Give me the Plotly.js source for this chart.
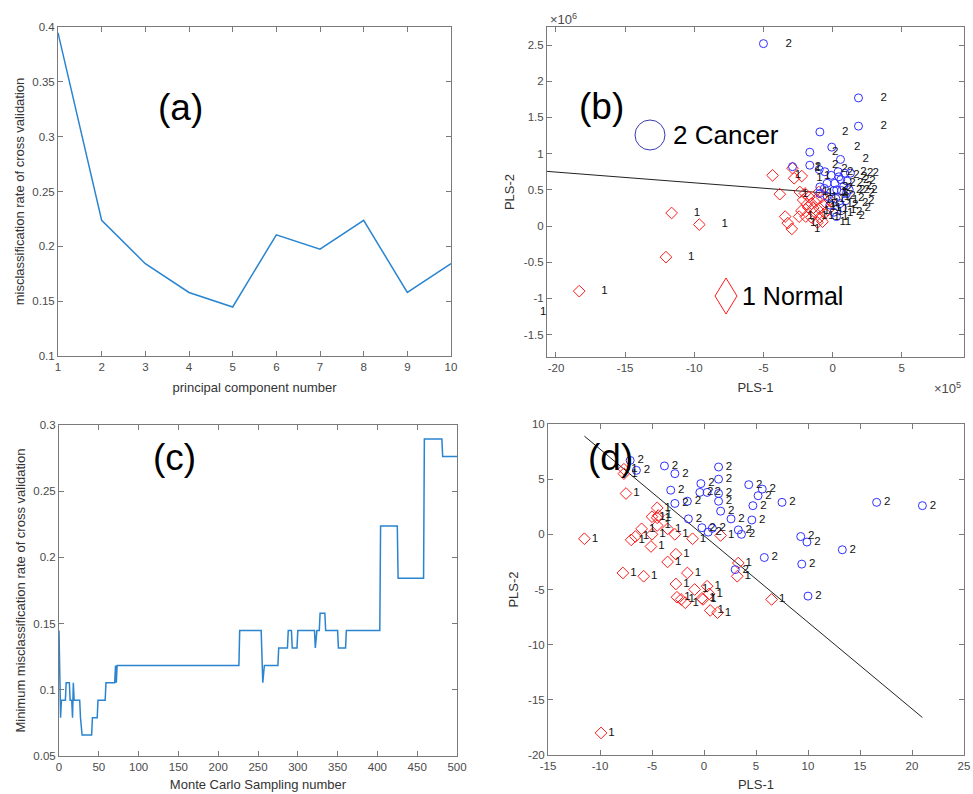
<!DOCTYPE html>
<html>
<head>
<meta charset="utf-8">
<script src="https://cdn.plot.ly/plotly-3.0.1.min.js"></script>
<style>html,body{margin:0;padding:0;background:#fff;}#chart{width:973px;height:794px;}</style>
</head>
<body>
<div id="chart"></div>
<script>
// ---------- DATA ----------
// (a) misclassification rate vs number of principal components
const pcNumber = [1, 2, 3, 4, 5, 6, 7, 8, 9, 10];
const pcRate = [0.3947, 0.2237, 0.1842, 0.1579, 0.1447, 0.2105, 0.1974, 0.2237, 0.1579, 0.1842];

// (c) minimum misclassification rate vs Monte Carlo sampling number
const mcX = [0, 1, 2, 3, 8, 9, 13, 14, 16, 17, 18, 19, 26, 27, 29, 41, 42, 48, 49, 58, 59, 70, 71, 72, 73,
  226, 227, 254, 256, 258, 275, 276, 287, 288, 292, 293, 299, 300, 321, 322, 324, 327, 328, 334, 335,
  350, 351, 360, 361, 403, 404, 425, 426, 458, 459, 481, 482, 500];
const mcY = [0.1447, 0.0921, 0.0789, 0.0921, 0.0921, 0.1053, 0.1053, 0.0921, 0.0921, 0.0789, 0.1053, 0.0921, 0.0921, 0.0789, 0.0658, 0.0658, 0.0789, 0.0789, 0.0921, 0.0921, 0.1053, 0.1053, 0.1184, 0.1053, 0.1184,
  0.1184, 0.1447, 0.1447, 0.1053, 0.1184, 0.1184, 0.1316, 0.1316, 0.1447, 0.1447, 0.1316, 0.1316, 0.1447, 0.1447, 0.1316, 0.1447, 0.1447, 0.1579, 0.1579, 0.1447,
  0.1447, 0.1316, 0.1316, 0.1447, 0.1447, 0.2237, 0.2237, 0.1842, 0.1842, 0.2895, 0.2895, 0.2763, 0.2763];

// (b) PLS scores, raw spectra (PLS-1 in 1e5, PLS-2 in 1e6)
const bCancerX = [-5.0, 1.87, 1.87, -0.92, -0.06, -1.65, -2.9, -1.65, -0.97, 0.57, -0.56, 0.40, 0.88, 1.29, 0.59, 1.05, 0.16, -0.40, -0.92, 0.09, 0.64, -0.40, 0.23, -0.2, 0.52, 0.09, 0.28, -0.92, 0.3, 1.0, 0.7, 0.8, 1.2, 0.45, -0.1, 0.95, -0.6];
const bCancerY = [2.52, 1.77, 1.38, 1.30, 1.09, 1.02, 0.82, 0.84, 0.78, 0.92, 0.75, 0.75, 0.73, 0.73, 0.64, 0.62, 0.59, 0.59, 0.45, 0.49, 0.49, 0.41, 0.38, 0.29, 0.31, 0.19, 0.13, 0.54, 0.5, 0.45, 0.25, 0.55, 0.5, 0.68, 0.7, 0.35, 0.52];
const bNormalX = [-18.32, -12.05, -11.64, -9.64, -4.34, -3.82, -2.78, -2.23, -3.43, -3.24, -2.95, -2.37, -2.9,
  -2.13, -1.77, -2.25, -1.53, -1.29, -1.94, -1.53, -2.42, -1.16, -0.92, -0.56, -0.92, -0.73, -0.2, -1.0, -1.7, -0.6, -2.0, -1.4, -0.35, -1.1, -0.8, -1.85, -22.9];
const bNormalY = [-0.90, -0.43, 0.18, 0.02, 0.70, 0.44, 0.66, 0.69, 0.13, 0.04, -0.04, 0.47, 0.80,
  0.36, 0.26, 0.21, 0.31, 0.19, 0.13, 0.12, 0.13, 0.37, 0.24, 0.18, 0.12, 0.06, 0.36, 0.47, 0.40, 0.30, 0.45, 0.25, 0.22, 0.05, 0.40, 0.30, -1.17];
const bLineX = [-21, 1.2];
const bLineY = [0.76, 0.43];

// (d) PLS scores, processed
const dCancerX = [-7.1, -6.5, -3.8, -2.8, -3.2, -2.8, -1.6, -1.5, -0.3, -0.4, 0.3, -0.2, 0.4, 0.8, 1.4, 1.4, 1.4, 1.4, 1.6, 2.6, 4.3, 5.6, 5.2, 4.7, 4.6, 3.3, 3.6, 7.5, 5.8, 3.0, 9.3, 9.9, 9.4, 10.0, 13.3, 16.6, 21.0];
const dCancerY = [6.7, 5.8, 6.2, 5.5, 4.0, 2.8, 3.0, 1.4, 4.6, 3.8, 3.8, 0.6, 0.2, 0.55, 6.1, 5.0, 3.7, 3.0, 2.1, 1.4, 4.5, 4.1, 3.5, 2.6, 1.3, 0.4, 0.0, 2.9, -2.1, -3.2, -0.2, -0.7, -2.7, -5.6, -1.4, 2.9, 2.6];
const dNormalX = [-11.5, -9.9, -7.7, -7.7, -7.5, -7.8, -5.8, -7.0, -6.6, -6.0, -5.0, -4.5, -4.5, -4.5, -5.0, -5.1, -3.5, -2.8, -2.7, -3.5, -1.1, 1.6, -1.6, -2.7, -0.9, 0.3, -2.6, -2.2, -1.8, -0.2, -0.1, 0.6, 1.3, 3.3, 3.2, 6.5, 0.5, -4.4];
const dNormalY = [-0.4, -18.0, 5.9, 5.5, 3.7, -3.5, -3.8, -0.5, -0.2, 0.5, 1.6, 2.4, 1.5, 0.8, 0.0, -1.1, 0.5, 0.0, -1.8, -2.5, -0.4, -0.1, -3.5, -4.5, -5.0, -4.7, -5.7, -5.9, -6.2, -5.8, -5.9, -6.9, -7.1, -2.6, -3.8, -5.9, -5.4, 1.7];
const dLineX = [-11.5, 21.0];
const dLineY = [8.9, -16.6];

// tick values
const aXTicks = [1, 2, 3, 4, 5, 6, 7, 8, 9, 10];
const aYTicks = [0.1, 0.15, 0.2, 0.25, 0.3, 0.35, 0.4];
const bXTicks = [-20, -15, -10, -5, 0, 5];
const bYTicks = [-1.5, -1, -0.5, 0, 0.5, 1, 1.5, 2, 2.5];
const cXTicks = [0, 50, 100, 150, 200, 250, 300, 350, 400, 450, 500];
const cYTicks = [0.05, 0.1, 0.15, 0.2, 0.25, 0.3];
const dXTicks = [-15, -10, -5, 0, 5, 10, 15, 20, 25];
const dYTicks = [-20, -15, -10, -5, 0, 5, 10];

// ---------- LAYOUT HELPERS ----------
const W = 973, H = 794;
const px = v => v / W;
const py = v => 1 - v / H;
const FONT = 'Liberation Sans, Arial, sans-serif';
const BLUE = '#2f2fff', RED = '#ff1a1a';
const lineBlue = '#2a84cf';
const bDx = 1.6, dDx = 0.7;
const LABEL_FONT = {family: FONT, size: 11.5, color: '#111'};

const bXDom = [px(547), px(964)], bYDom = [py(357), py(27)];
const bXRange = [-20.65, 9.5], bYRange = [-1.81, 2.75];

function ax(domain, range, ticks, title, standoff, anchor) {
  return {
    domain: domain, range: range, anchor: anchor,
    tickmode: 'array', tickvals: ticks, ticktext: ticks.map(String),
    ticks: 'inside', ticklen: 5, tickwidth: 1, tickcolor: '#7a7a7a',
    showline: true, linecolor: '#7a7a7a', linewidth: 1, mirror: 'ticks',
    showgrid: false, zeroline: false,
    tickfont: {family: FONT, size: 11.5, color: '#4a4a4a'},
    title: {text: title, font: {family: FONT, size: 13, color: '#333'}, standoff: standoff},
    automargin: false
  };
}
// data -> paper conversion (for labels whose point lies outside the visible range)
const toPaper = (v, dom, rng) => dom[0] + (v - rng[0]) / (rng[1] - rng[0]) * (dom[1] - dom[0]);

const inB = (x) => x >= bXRange[0] && x <= bXRange[1];
const bNormLabX = bNormalX.map(v => v + bDx);
const strayLabels = [];
bNormLabX.forEach((lx, i) => {
  if (!inB(lx)) strayLabels.push({text: '1', x: toPaper(lx, bXDom, bXRange), y: toPaper(bNormalY[i], bYDom, bYRange),
    xref: 'paper', yref: 'paper', xanchor: 'left', yanchor: 'middle', showarrow: false, font: LABEL_FONT});
});

const traces = [
  {x: pcNumber, y: pcRate, xaxis: 'x', yaxis: 'y', mode: 'lines', line: {color: lineBlue, width: 1.5}},
  {x: bLineX, y: bLineY, xaxis: 'x2', yaxis: 'y2', mode: 'lines', line: {color: '#222', width: 1}},
  {x: bNormalX, y: bNormalY, xaxis: 'x2', yaxis: 'y2', mode: 'markers', marker: {symbol: 'diamond-open', size: 9, color: RED, line: {width: 1, color: RED}}},
  {x: bCancerX, y: bCancerY, xaxis: 'x2', yaxis: 'y2', mode: 'markers', marker: {symbol: 'circle-open', size: 8, color: BLUE, line: {width: 1, color: BLUE}}},
  {x: bNormLabX, y: bNormalY, xaxis: 'x2', yaxis: 'y2', mode: 'text', text: bNormalX.map(() => '1'), textposition: 'middle right', cliponaxis: false, textfont: LABEL_FONT},
  {x: bCancerX.map(v => v + bDx), y: bCancerY, xaxis: 'x2', yaxis: 'y2', mode: 'text', text: bCancerX.map(() => '2'), textposition: 'middle right', cliponaxis: false, textfont: LABEL_FONT},
  {x: mcX, y: mcY, xaxis: 'x3', yaxis: 'y3', mode: 'lines', line: {color: lineBlue, width: 1.5}},
  {x: dLineX, y: dLineY, xaxis: 'x4', yaxis: 'y4', mode: 'lines', line: {color: '#222', width: 1}},
  {x: dNormalX, y: dNormalY, xaxis: 'x4', yaxis: 'y4', mode: 'markers', marker: {symbol: 'diamond-open', size: 9, color: RED, line: {width: 1, color: RED}}},
  {x: dCancerX, y: dCancerY, xaxis: 'x4', yaxis: 'y4', mode: 'markers', marker: {symbol: 'circle-open', size: 8, color: BLUE, line: {width: 1, color: BLUE}}},
  {x: dNormalX.map(v => v + dDx), y: dNormalY, xaxis: 'x4', yaxis: 'y4', mode: 'text', text: dNormalX.map(() => '1'), textposition: 'middle right', textfont: LABEL_FONT},
  {x: dCancerX.map(v => v + dDx), y: dCancerY, xaxis: 'x4', yaxis: 'y4', mode: 'text', text: dCancerX.map(() => '2'), textposition: 'middle right', textfont: LABEL_FONT}
];

const layout = {
  width: W, height: H,
  margin: {l: 0, r: 0, t: 0, b: 0},
  paper_bgcolor: '#fff', plot_bgcolor: '#fff',
  showlegend: false,
  font: {family: FONT},
  xaxis: ax([px(58), px(451)], [1, 10], aXTicks, 'principal component number', 11, 'y'),
  yaxis: ax([py(356), py(27)], [0.1, 0.4], aYTicks, 'misclassification rate of cross validation', 4, 'x'),
  xaxis2: ax(bXDom, bXRange, bXTicks, 'PLS-1', 10, 'y2'),
  yaxis2: ax(bYDom, bYRange, bYTicks, 'PLS-2', 6, 'x2'),
  xaxis3: ax([px(59), px(457)], [0, 500], cXTicks, 'Monte Carlo Sampling number', 8, 'y3'),
  yaxis3: ax([py(756), py(425)], [0.05, 0.3], cYTicks, 'Minimum misclassification rate of cross validation', 4, 'x3'),
  xaxis4: ax([px(548), px(964)], [-15, 25], dXTicks, 'PLS-1', 9, 'y4'),
  yaxis4: ax([py(755), py(424)], [-20, 10], dYTicks, 'PLS-2', 6, 'x4'),
  annotations: [
    {text: '(a)', x: px(156), y: py(85), xref: 'paper', yref: 'paper', showarrow: false, font: {family: FONT, size: 37, color: '#000'}},
    {text: '(b)', x: px(601), y: py(84), xref: 'paper', yref: 'paper', showarrow: false, font: {family: FONT, size: 37, color: '#000'}},
    {text: '(c)', x: px(151), y: py(458), xref: 'paper', yref: 'paper', showarrow: false, font: {family: FONT, size: 37, color: '#000'}},
    {text: '(d)', x: px(610), y: py(458), xref: 'paper', yref: 'paper', showarrow: false, font: {family: FONT, size: 37, color: '#000'}},
    {text: '2 Cancer', x: px(671), y: py(135), xref: 'paper', yref: 'paper', xanchor: 'left', yanchor: 'middle', showarrow: false, font: {family: FONT, size: 26, color: '#000'}},
    {text: '1 Normal', x: px(740), y: py(296), xref: 'paper', yref: 'paper', xanchor: 'left', yanchor: 'middle', showarrow: false, font: {family: FONT, size: 25, color: '#000'}},
    {text: '\u00d710<sup>6</sup>', x: px(548), y: py(19), xref: 'paper', yref: 'paper', xanchor: 'left', yanchor: 'middle', showarrow: false, font: {family: FONT, size: 13, color: '#4a4a4a'}},
    {text: '\u00d710<sup>5</sup>', x: px(963), y: py(388), xref: 'paper', yref: 'paper', xanchor: 'right', yanchor: 'middle', showarrow: false, font: {family: FONT, size: 13, color: '#4a4a4a'}}
  ].concat(strayLabels),
  shapes: [
    {type: 'circle', xref: 'paper', yref: 'paper', x0: px(635), x1: px(665), y0: py(150), y1: py(120), line: {color: '#3a3ab0', width: 1}},
    {type: 'path', xref: 'paper', yref: 'paper',
     path: 'M ' + px(715) + ',' + py(296) + ' L ' + px(726) + ',' + py(278) + ' L ' + px(737) + ',' + py(296) + ' L ' + px(726) + ',' + py(314) + ' Z',
     line: {color: RED, width: 1}}
  ]
};

Plotly.newPlot('chart', traces, layout, {displayModeBar: false, staticPlot: true});
</script>
</body>
</html>
